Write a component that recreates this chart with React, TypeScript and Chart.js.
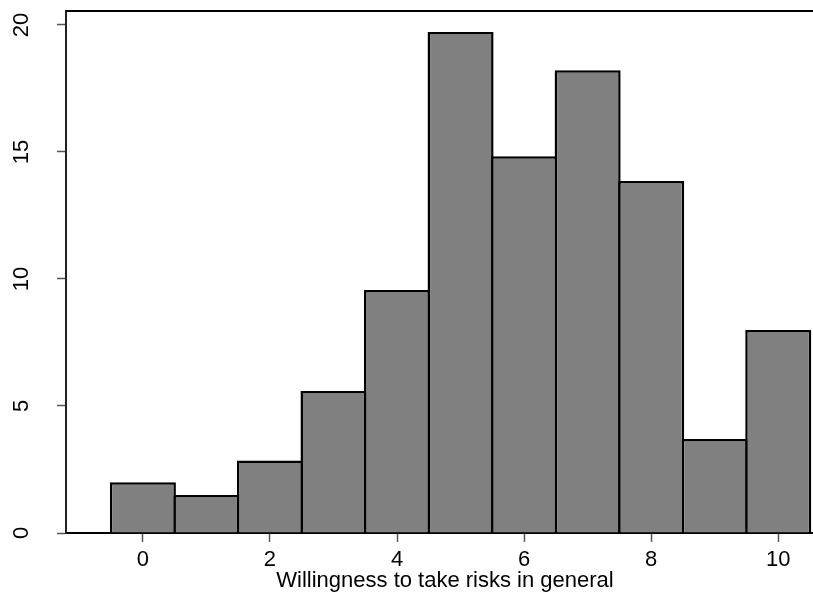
import React, { useEffect, useRef } from "react";
import { Chart, registerables } from "chart.js";

Chart.register(...registerables);

const scores = [0, 1, 2, 3, 4, 5, 6, 7, 8, 9, 10];
const percents = [2.0, 1.5, 2.85, 5.59, 9.57, 19.72, 14.83, 18.22, 13.86, 3.7, 7.99];
const xTickValues = [0, 2, 4, 6, 8, 10];
const yTickValues = [0, 5, 10, 15, 20];
const xTitle = "Willingness to take risks in general";

const FONT = "'Liberation Sans', Arial, Helvetica, sans-serif";
const CANVAS_W = 830;
const CANVAS_H = 597;

const frameTop = {
  id: "frameTop",
  afterDraw(chart: any) {
    const { ctx, chartArea } = chart;
    ctx.save();
    ctx.strokeStyle = "#000";
    ctx.lineWidth = 2;
    ctx.beginPath();
    ctx.moveTo(chartArea.left, chartArea.top);
    ctx.lineTo(chartArea.right, chartArea.top);
    ctx.lineTo(chartArea.right, chartArea.bottom);
    ctx.stroke();
    ctx.restore();
  },
};

export default function App() {
  const ref = useRef<HTMLCanvasElement | null>(null);

  useEffect(() => {
    if (!ref.current) return;
    const chart = new Chart(ref.current, {
      type: "bar",
      data: {
        datasets: [
          {
            data: scores.map((s, i) => ({ x: s, y: percents[i] })),
            backgroundColor: "#808080",
            borderColor: "#000000",
            borderWidth: 2.5,
            borderSkipped: "start",
            barPercentage: 1 + 2.5 / 63.5,
            categoryPercentage: 1,
          },
        ],
      },
      options: {
        responsive: false,
        animation: false,
        devicePixelRatio: 1,
        layout: { padding: { top: 11, right: 6, left: 0, bottom: 0 } },
        plugins: { legend: { display: false }, tooltip: { enabled: false } },
        scales: {
          x: {
            type: "linear",
            min: -1.21,
            max: 10.72,
            offset: false,
            afterBuildTicks: (s: any) => {
              s.ticks = xTickValues.map((v) => ({ value: v }));
            },
            afterFit: (s: any) => {
              s.height = 64;
              s.paddingLeft = 0;
              s.paddingRight = 0;
            },
            grid: {
              display: true,
              offset: false,
              drawOnChartArea: false,
              drawTicks: true,
              tickLength: 9,
              tickColor: "#555",
              tickWidth: 1.5,
            },
            border: { display: true, color: "#000", width: 2 },
            ticks: {
              font: { family: FONT, size: 22 },
              color: "#000",
              padding: 5,
              maxRotation: 0,
              minRotation: 0,
              autoSkip: false,
            },
            title: {
              display: true,
              text: xTitle,
              font: { family: FONT, size: 22 },
              color: "#000",
              padding: { top: 0, bottom: 3 },
            },
          },
          y: {
            type: "linear",
            min: 0,
            max: 20.55,
            afterBuildTicks: (s: any) => {
              s.ticks = yTickValues.map((v) => ({ value: v }));
            },
            afterFit: (s: any) => {
              s.width = 66;
              s.paddingTop = 0;
              s.paddingBottom = 0;
            },
            grid: {
              display: true,
              drawOnChartArea: false,
              drawTicks: true,
              tickLength: 9,
              tickColor: "#555",
              tickWidth: 1.5,
            },
            border: { display: true, color: "#222", width: 2 },
            ticks: {
              font: { family: FONT, size: 22 },
              color: "#000",
              padding: 23,
              minRotation: 90,
              maxRotation: 90,
              crossAlign: "center",
              autoSkip: false,
            },
          },
        },
      },
      plugins: [frameTop],
    });
    return () => chart.destroy();
  }, []);

  return (
    <div
      style={{
        position: "fixed",
        left: 0,
        top: 0,
        width: 813,
        height: 597,
        overflow: "hidden",
        background: "#fff",
      }}
    >
      <canvas
        ref={ref}
        width={CANVAS_W}
        height={CANVAS_H}
        style={{ width: CANVAS_W, height: CANVAS_H, display: "block" }}
      />
    </div>
  );
}
